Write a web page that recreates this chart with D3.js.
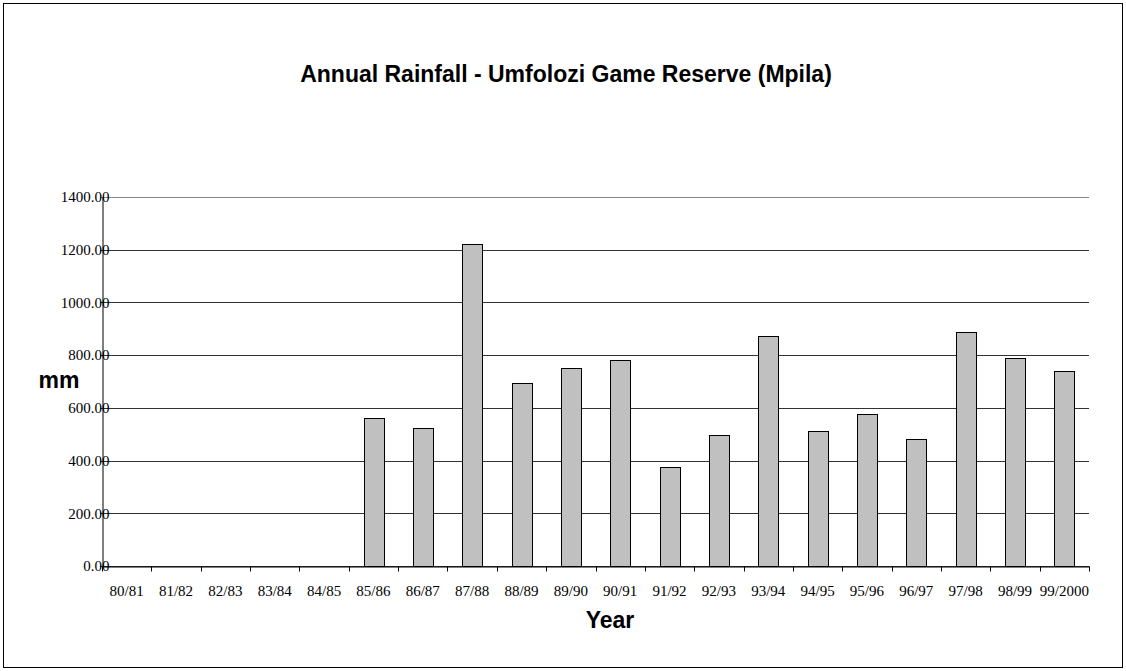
<!DOCTYPE html>
<html>
<head>
<meta charset="utf-8">
<script src="https://cdn.jsdelivr.net/npm/d3@7"></script>
<style>
  body { margin: 0; background: #fff; }
  svg { display: block; }
</style>
</head>
<body>
<div id="chart"></div>
<script>
// rainfall per season, mm (no record before 85/86)
var years = ["80/81", "81/82", "82/83", "83/84", "84/85", "85/86", "86/87", "87/88", "88/89", "89/90",
             "90/91", "91/92", "92/93", "93/94", "94/95", "95/96", "96/97", "97/98", "98/99", "99/2000"];
var rainfall = [null, null, null, null, null, 562, 524, 1222, 693, 752,
                783, 377, 498, 871, 512, 577, 481, 887, 789, 741];
var yTicks = [0, 200, 400, 600, 800, 1000, 1200, 1400];

var width = 1126, height = 671;
var margin = {left: 102, right: 37, top: 197, bottom: 105};
var serif = "'Liberation Serif', 'Times New Roman', serif";
var sans = "'Liberation Sans', Arial, sans-serif";

var svg = d3.select("#chart").append("svg")
    .attr("width", width)
    .attr("height", height);

// outer frame
svg.append("rect")
    .attr("x", 3.5).attr("y", 3.5)
    .attr("width", width - 7).attr("height", height - 7)
    .attr("fill", "none").attr("stroke", "#000").attr("stroke-width", 1);

var x = d3.scaleBand()
    .domain(years)
    .range([margin.left, width - margin.right])
    .padding(0);

var y = d3.scaleLinear()
    .domain([0, 1400])
    .range([height - margin.bottom, margin.top]);

// gridlines
svg.append("g").selectAll("line")
    .data(yTicks)
    .enter().append("line")
    .attr("x1", margin.left - 2)
    .attr("x2", width - margin.right)
    .attr("y1", function(d){ return Math.round(y(d)) + 0.5; })
    .attr("y2", function(d){ return Math.round(y(d)) + 0.5; })
    .attr("stroke", function(d){ return d == 1400 ? "#888" : "#333"; })
    .attr("stroke-width", 1);

// bars
var barW = x.bandwidth() * 0.4;
svg.append("g").selectAll("rect")
    .data(years.map(function(d, i){ return {year: d, value: rainfall[i]}; })
                .filter(function(d){ return d.value != null; }))
    .enter().append("rect")
    .attr("x", function(d){ return Math.round(x(d.year) + (x.bandwidth() - barW) / 2) + 0.5; })
    .attr("y", function(d){ return Math.round(y(d.value)) + 0.5; })
    .attr("width", Math.round(barW))
    .attr("height", function(d){ return Math.round(y(0)) - Math.round(y(d.value)); })
    .attr("fill", "#c0c0c0")
    .attr("stroke", "#000")
    .attr("stroke-width", 1);

// y axis
var yAxis = svg.append("g")
    .attr("transform", "translate(" + (margin.left + 0.5) + ",0)")
    .call(d3.axisLeft(y).tickValues(yTicks).tickSize(0).tickPadding(-7)
            .tickFormat(function(d){ return d3.format(".2f")(d); }));
yAxis.select(".domain").attr("stroke", "#000");
yAxis.selectAll("text")
    .attr("font-family", serif)
    .attr("font-size", "15px")
    .attr("fill", "#000");

// x axis, ticks on category boundaries
var xAxis = svg.append("g")
    .attr("transform", "translate(0," + (Math.round(y(0)) + 0.5) + ")")
    .call(d3.axisBottom(x).tickSize(0).tickPadding(19));
xAxis.select(".domain").attr("stroke", "#000");
xAxis.selectAll("text")
    .attr("font-family", serif)
    .attr("font-size", "15px")
    .attr("fill", "#000");
xAxis.selectAll("line.bound")
    .data(years.concat(["end"]))
    .enter().append("line")
    .attr("class", "bound")
    .attr("x1", function(d, i){ return Math.round(x.range()[0] + i * x.step()) + 0.5; })
    .attr("x2", function(d, i){ return Math.round(x.range()[0] + i * x.step()) + 0.5; })
    .attr("y1", 0).attr("y2", 5)
    .attr("stroke", "#000");

// titles
svg.append("text")
    .attr("x", 566).attr("y", 82)
    .attr("text-anchor", "middle")
    .attr("font-family", sans)
    .attr("font-weight", "bold")
    .attr("font-size", "23px")
    .text("Annual Rainfall - Umfolozi Game Reserve (Mpila)");

svg.append("text")
    .attr("x", 59).attr("y", 388)
    .attr("text-anchor", "middle")
    .attr("font-family", sans)
    .attr("font-weight", "bold")
    .attr("font-size", "23px")
    .text("mm");

svg.append("text")
    .attr("x", 610).attr("y", 628)
    .attr("text-anchor", "middle")
    .attr("font-family", sans)
    .attr("font-weight", "bold")
    .attr("font-size", "23px")
    .text("Year");
</script>
</body>
</html>
